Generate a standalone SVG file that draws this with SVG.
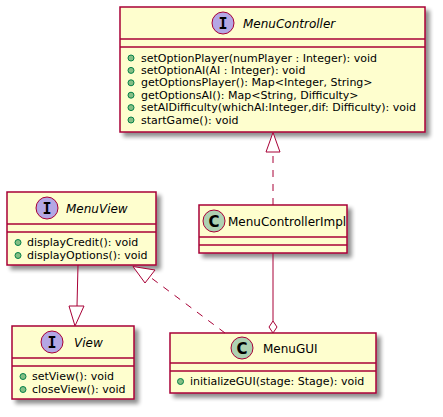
<svg xmlns="http://www.w3.org/2000/svg" width="443" height="417" viewBox="0 0 443 417">
<defs>
<filter id="sh" x="-10%" y="-10%" width="130%" height="140%">
<feGaussianBlur in="SourceAlpha" stdDeviation="2"/>
<feOffset dx="4" dy="4" result="b"/>
<feComponentTransfer><feFuncA type="linear" slope="0.45"/></feComponentTransfer>
<feMerge><feMergeNode/><feMergeNode in="SourceGraphic"/></feMerge>
</filter>
<style>
.box{fill:#FEFECE;stroke:#A80036;stroke-width:1.5}
.sep{stroke:#A80036;stroke-width:1.5}
.ic{fill:#B4A7E5;stroke:#A80036;stroke-width:1}
.cc{fill:#ADD1B2;stroke:#A80036;stroke-width:1}
.lt{font-family:"DejaVu Sans Mono",monospace;font-weight:bold;font-size:15px;fill:#000;text-anchor:middle}
.ltc{font-family:"DejaVu Sans",sans-serif;font-weight:bold;font-size:15px;fill:#000;text-anchor:middle}
.tn{font-family:"DejaVu Sans",sans-serif;font-size:12px;fill:#000}
.ti{font-style:italic}
.m{font-family:"DejaVu Sans",sans-serif;font-size:11px;fill:#000}
.dot{fill:#84BE84;stroke:#038048;stroke-width:1}
.ln{stroke:#A80036;stroke-width:1;fill:none}
.dash{stroke-dasharray:7,7}
.hd{fill:#FFFFFF;stroke:#A80036;stroke-width:1}
</style>
</defs>

<g id="MenuController">
<rect class="box" x="120" y="7" width="305" height="125" filter="url(#sh)"/>
<line class="sep" x1="120" y1="39" x2="425" y2="39"/>
<line class="sep" x1="120" y1="47" x2="425" y2="47"/>
<circle class="ic" cx="223" cy="23" r="11"/>
<text class="lt" x="223" y="28.5">I</text>
<text class="tn ti" x="243" y="28">MenuController</text>
<circle class="dot" cx="131" cy="58" r="3"/>
<text class="m" x="141" y="61.5">setOptionPlayer(numPlayer : Integer): void</text>
<circle class="dot" cx="131" cy="70.4" r="3"/>
<text class="m" x="141" y="73.9">setOptionAI(AI : Integer): void</text>
<circle class="dot" cx="131" cy="82.8" r="3"/>
<text class="m" x="141" y="86.3">getOptionsPlayer(): Map&lt;Integer, String&gt;</text>
<circle class="dot" cx="131" cy="95.2" r="3"/>
<text class="m" x="141" y="98.7">getOptionsAI(): Map&lt;String, Difficulty&gt;</text>
<circle class="dot" cx="131" cy="107.6" r="3"/>
<text class="m" x="141" y="111.1">setAIDifficulty(whichAI:Integer,dif: Difficulty): void</text>
<circle class="dot" cx="131" cy="120" r="3"/>
<text class="m" x="141" y="123.5">startGame(): void</text>
</g>

<g id="MenuView">
<rect class="box" x="7" y="192" width="149" height="73" filter="url(#sh)"/>
<line class="sep" x1="7" y1="224" x2="156" y2="224"/>
<line class="sep" x1="7" y1="232" x2="156" y2="232"/>
<circle class="ic" cx="47" cy="208" r="11"/>
<text class="lt" x="47" y="213.5">I</text>
<text class="tn ti" x="66" y="213">MenuView</text>
<circle class="dot" cx="18" cy="242.5" r="3"/>
<text class="m" x="27" y="246">displayCredit(): void</text>
<circle class="dot" cx="18" cy="255.5" r="3"/>
<text class="m" x="27" y="259">displayOptions(): void</text>
</g>

<g id="View">
<rect class="box" x="12" y="326" width="122" height="73" filter="url(#sh)"/>
<line class="sep" x1="12" y1="358" x2="134" y2="358"/>
<line class="sep" x1="12" y1="366" x2="134" y2="366"/>
<circle class="ic" cx="52" cy="342" r="11"/>
<text class="lt" x="52" y="347.5">I</text>
<text class="tn ti" x="74" y="347">View</text>
<circle class="dot" cx="23" cy="376.5" r="3"/>
<text class="m" x="32" y="380">setView(): void</text>
<circle class="dot" cx="23" cy="389.5" r="3"/>
<text class="m" x="32" y="393">closeView(): void</text>
</g>

<g id="MenuControllerImpl">
<rect class="box" x="199" y="205" width="148" height="48" filter="url(#sh)"/>
<line class="sep" x1="199" y1="237" x2="347" y2="237"/>
<line class="sep" x1="199" y1="245" x2="347" y2="245"/>
<circle class="cc" cx="214" cy="221" r="11"/>
<text class="ltc" x="214" y="226.5">C</text>
<text class="tn" x="228" y="226">MenuControllerImpl</text>
</g>

<g id="MenuGUI">
<rect class="box" x="170" y="333" width="206" height="60" filter="url(#sh)"/>
<line class="sep" x1="170" y1="363" x2="376" y2="363"/>
<line class="sep" x1="170" y1="371" x2="376" y2="371"/>
<circle class="cc" cx="242" cy="348" r="11"/>
<text class="ltc" x="242" y="353.5">C</text>
<text class="tn" x="263" y="353">MenuGUI</text>
<circle class="dot" cx="180.5" cy="381.5" r="3"/>
<text class="m" x="190" y="385">initializeGUI(stage: Stage): void</text>
</g>

<g id="connectors">
<path class="ln dash" d="M273,205 L273,152"/>
<polygon class="hd" points="273,132.5 266,152 280,152"/>
<path class="ln" d="M273,253 L273,321"/>
<polygon class="hd" points="273,321 277,327 273,333 269,327"/>
<path class="ln dash" d="M225,333 L150,277"/>
<polygon class="hd" points="133,266.5 145,283 155,270"/>
<path class="ln" d="M78,265 L77,306"/>
<polygon class="hd" points="75,326 69,306 84,306"/>
</g>
</svg>
